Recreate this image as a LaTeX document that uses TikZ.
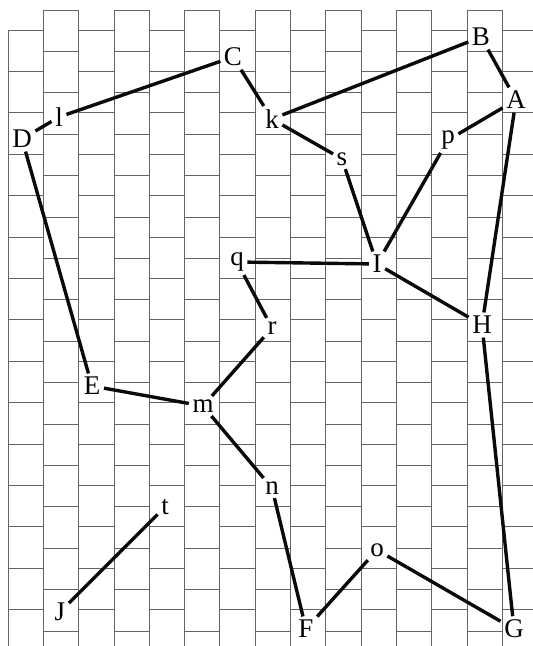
\documentclass[tikz,border=0pt]{standalone}
\usepackage{fontspec}
\setmainfont{Liberation Serif}
\usepackage{tikz}
\usetikzlibrary{positioning,calc}
\definecolor{gridcolor}{RGB}{100,100,100}
\definecolor{edgecolor}{RGB}{10,10,10}

\begin{document}
\begin{tikzpicture}[x=1pt,y=-1pt,
    gridline/.style={gridcolor, line width=0.7pt},
    vtx/.style={font=\fontsize{27}{27}\selectfont, inner sep=3.5pt},
    link/.style={edgecolor, line width=3.4pt}]
        \useasboundingbox (0,0) rectangle (533,646);
        \clip (0,0) rectangle (533,646);
        % brick grid: columns of width 35.3, bricks 41.4 high
        \draw[gridline] (8,30) -- (8,646);
        \foreach \j in {1,...,14}
          \draw[gridline] ({8+35.3*\j},10) -- ({8+35.3*\j},646);
        \foreach \j in {0,2,...,14}
          \foreach \k in {0,...,14}
            \draw[gridline] ({8+35.3*\j},{30+41.4*\k}) -- ({43.3+35.3*\j},{30+41.4*\k});
        \foreach \j in {1,3,...,13}
          \foreach \k in {0,...,15}
            \draw[gridline] ({8+35.3*\j},{10+41.4*\k}) -- ({43.3+35.3*\j},{10+41.4*\k});
        % points
        \node[vtx] (B) at (481,37) {B};
        \node[vtx] (C) at (233,57) {C};
        \node[vtx] (A) at (516,100) {A};
        \node[vtx] (l) at (59,117) {l};
        \node[vtx] (D) at (22,139) {D};
        \node[vtx] (k) at (272,119) {k};
        \node[vtx] (s) at (342,159) {s};
        \node[vtx] (p) at (448,140) {p};
        \node[vtx] (q) at (237,262) {q};
        \node[vtx] (I) at (377,264) {I};
        \node[vtx] (H) at (482,325) {H};
        \node[vtx] (r) at (272,328) {r};
        \node[vtx] (E) at (92,386) {E};
        \node[vtx] (m) at (203,406) {m};
        \node[vtx] (n) at (272,488) {n};
        \node[vtx] (t) at (165,507) {t};
        \node[vtx] (o) at (377,550) {o};
        \node[vtx] (J) at (60,612) {J};
        \node[vtx] (F) at (306,629) {F};
        \node[vtx] (G) at (514,629) {G};
        % connections
        \draw[link] (D) -- (l);
        \draw[link] (l) -- (C);
        \draw[link] (C) -- (k);
        \draw[link] (k) -- (B);
        \draw[link] (B) -- (A);
        \draw[link] (k) -- (s);
        \draw[link] (s) -- (I);
        \draw[link] (p) -- (I);
        \draw[link] (p) -- (A);
        \draw[link] (A) -- (H);
        \draw[link] (I) -- (H);
        \draw[link] (q) -- (I);
        \draw[link] (q) -- (r);
        \draw[link] (r) -- (m);
        \draw[link] (E) -- (m);
        \draw[link] (D) -- (E);
        \draw[link] (m) -- (n);
        \draw[link] (n) -- (F);
        \draw[link] (F) -- (o);
        \draw[link] (o) -- (G);
        \draw[link] (H) -- (G);
        \draw[link] (t) -- (J);
      \end{tikzpicture}
\end{document}
